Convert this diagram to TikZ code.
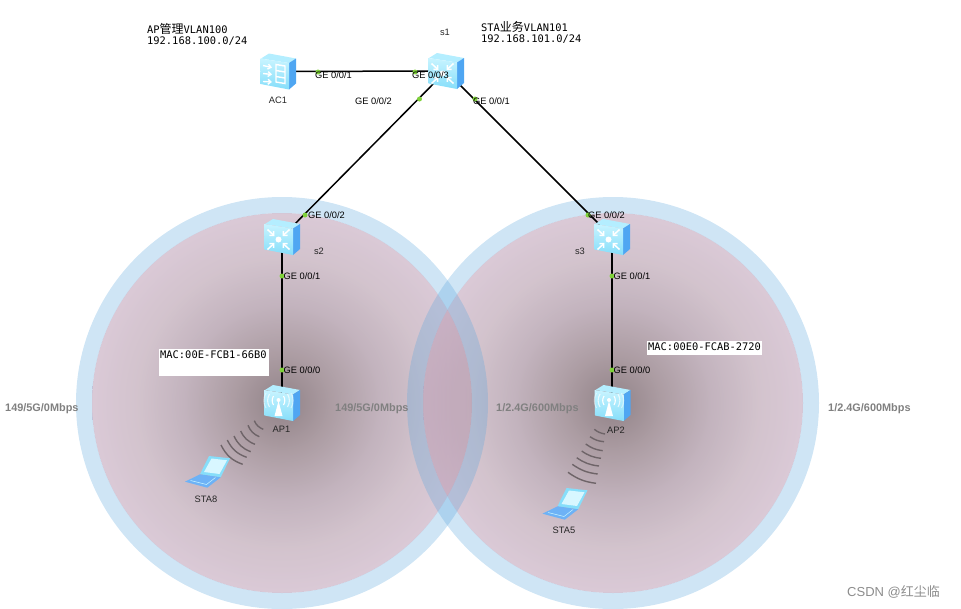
\documentclass[tikz,border=0pt]{standalone}
\usepackage{fontspec}
\usetikzlibrary{arrows.meta}
\setmainfont{Liberation Sans}
\newfontfamily\monof{DejaVu Sans Mono}
\newfontfamily\cjkf{Noto Sans CJK SC}
\pgfdeclareradialshading{halo}{\pgfpoint{0bp}{0bp}}{%
 rgb(0bp)=(0.215,0.11,0.145);
 rgb(6.5bp)=(0.41,0.30,0.345);
 rgb(13bp)=(0.57,0.46,0.535);
 rgb(19bp)=(0.68,0.57,0.64);
 rgb(25bp)=(0.737,0.615,0.71);
 rgb(50bp)=(0.737,0.615,0.71)}
\definecolor{bandblue}{HTML}{5FA8DD}
\definecolor{linkdot}{HTML}{7FD13B}
\definecolor{faceA}{HTML}{C8F4FF}
\definecolor{faceB}{HTML}{86DEFA}
\definecolor{sideblue}{HTML}{4FA6F2}
\definecolor{topblue}{HTML}{B4EEFF}
\definecolor{wave}{HTML}{6E6468}
\definecolor{lapbase}{HTML}{6DB2F6}
\tikzset{
 devnode/.style={inner sep=0pt,minimum size=30pt,shape=circle},
 link/.style={line width=1.5pt,black},
 portdot/.style={circle,fill=linkdot,inner sep=0pt,minimum size=5pt},
 port/.style={anchor=west,inner sep=0pt,font=\fontsize{9.3}{11}\selectfont,text=black},
 devname/.style={inner sep=0pt,font=\fontsize{9.3}{11}\selectfont,text=black!85},
 rate/.style={anchor=west,inner sep=0pt,font=\bfseries\fontsize{10.9}{13}\selectfont,text=black!50},
 monotext/.style={anchor=west,inner sep=0pt,font=\monof\fontsize{10.4}{13}\selectfont,text=black},
 macbox/.style={anchor=north west,fill=white,inner sep=0pt},
 wavearc/.style={line width=1.4pt,wave},
 boxbody/.pic={
  \fill[topblue] (-17,-13) -- (-9,-18) -- (18,-13) -- (11,-8.5) -- cycle;
  \fill[sideblue] (11,-8.5) -- (18,-13) -- (18,12) -- (11,18) -- cycle;
  \shade[top color=faceA,bottom color=faceB] (-18,-13) -- (11,-8.5) -- (11,18) -- (-17.5,12.5) -- cycle;
 },
 switchicon/.pic={
  \pic {boxbody};
  \begin{scope}[white,line width=1.5pt,shift={(-3.5,2.5)}]
   \fill (0,0) circle (3);
   \draw[-{Straight Barb[length=3pt,width=6pt]}] (-11,-10) -- (-4,-3.5);
   \draw[-{Straight Barb[length=3pt,width=6pt]}] (11,-10) -- (4,-3.5);
   \draw[-{Straight Barb[length=3pt,width=6pt]}] (-11,10) -- (-4,3.5);
   \draw[-{Straight Barb[length=3pt,width=6pt]}] (11,10) -- (4,3.5);
  \end{scope}
 },
 acicon/.pic={
  \pic {boxbody};
  \begin{scope}[white,line width=1.4pt]
   \draw[-{Straight Barb[length=3pt,width=5pt]}] (-15,-6) -- (-6,-4);
   \draw[-{Straight Barb[length=3pt,width=5pt]}] (-15,2) -- (-6,3);
   \draw[-{Straight Barb[length=3pt,width=5pt]}] (-15,10) -- (-6,10.5);
   \draw (-2,-7) -- (7,-5.5) -- (7,12) -- (-2,10.5) -- cycle;
   \draw (-2,-1) -- (7,0.5) (-2,5) -- (7,6.5);
  \end{scope}
 },
 apicon/.pic={
  \pic {boxbody};
  \begin{scope}[white,shift={(-3.5,2)}]
   \fill (0,-4) -- (-4,11) -- (4,11) -- cycle;
   \fill (0,-5) circle (2);
   \draw[line width=1.1pt] (-5,-9) to[bend right=30] (-5,0);
   \draw[line width=1.1pt] (5,-9) to[bend left=30] (5,0);
   \draw[line width=1.1pt,opacity=.7] (-9,-11) to[bend right=30] (-9,2);
   \draw[line width=1.1pt,opacity=.7] (9,-11) to[bend left=30] (9,2);
   \draw[line width=1.1pt,opacity=.45] (-12.5,-12) to[bend right=30] (-12.5,3);
   \draw[line width=1.1pt,opacity=.45] (12.5,-12) to[bend left=30] (12.5,3);
  \end{scope}
 },
 laptop/.pic={
  \fill[faceB] (1.5,-16) -- (22.5,-13.7) -- (13.2,5.3) -- (-7.5,2.3) -- cycle;
  \fill[faceA!70!white] (4,-13.5) -- (19.5,-11.7) -- (12,2) -- (-3.5,0) -- cycle;
  \fill[lapbase] (-7.5,2.3) -- (13.2,5.3) -- (-0.2,15.7) -- (-22.5,9.7) -- cycle;
  \draw[faceA,line width=.5pt] (-17,8.5) -- (-1,12.5) -- (8,5.5);
 },
}
\begin{document}
\begin{tikzpicture}[x=1pt,y=-1pt]
\useasboundingbox (0,0) rectangle (961,608);
% halos
\coordinate (cl) at (282,403);
\coordinate (cr) at (613,403);
\shade[shading=halo,opacity=.55] (cl) circle (190);
\shade[shading=halo,opacity=.55] (cr) circle (190);
\fill[bandblue,opacity=.3,even odd rule] (cl) circle (206) (cl) circle (190);
\fill[bandblue,opacity=.3,even odd rule] (cr) circle (206) (cr) circle (190);
% device anchors
\node[devnode] (ac1) at (278,71.5) {};
\node[devnode] (s1) at (446,71) {};
\node[devnode] (s2) at (282,237) {};
\node[devnode] (s3) at (612,237) {};
\node[devnode] (ap1) at (282,403) {};
\node[devnode] (ap2) at (612.5,403) {};
\node[devnode] (sta8) at (207.5,472) {};
\node[devnode] (sta5) at (565,504) {};
% links
\draw[link] (ac1.center) -- (s1.center);
\draw[link] (s1.center) -- (s2.center);
\draw[link] (s1.center) -- (s3.center);
\draw[link] (s2.center) -- (s2.center |- ap1.center);
\draw[link] (s3.center) -- (s3.center |- ap2.center);
% wireless AP1
\foreach \a/\b/\c/\d in {221/445/242.7/464.3, 227.3/440/246.7/457.3, 234/436/250.7/451.7, 240.7/431/255/444.3, 248/425.3/259.3/436.7, 254.3/420.7/263.3/429.3}
 \draw[wavearc] (\a,\b) to[bend right=22] (\c,\d);
% wireless AP2
\foreach \a/\b/\c/\d in {594.3/429.3/605/434, 590/436.7/604/441.7, 585.7/444/602.7/450.7, 581.7/451/601/458.3, 576.7/457.7/599/466, 572.3/464.3/597.7/474, 568/472.3/596/483.3}
 \draw[wavearc] (\a,\b) to[bend right=14] (\c,\d);
% icons
\pic at (ac1) {acicon};
\pic at (s1) {switchicon};
\pic at (s2) {switchicon};
\pic at (s3) {switchicon};
\pic at (ap1) {apicon};
\pic at (ap2) {apicon};
\pic at (sta8) {laptop};
\pic at (sta5) {laptop};
% port dots
\foreach \n/\x/\y in {d1/318/72,d2/415/72,d3/419.5/99,d4/475/99,d5/305/215,d6/282/276,d7/282/370,d8/588/215,d9/612/276,d10/612/370}
 \node[portdot] (\n) at (\x,\y) {};
% port labels
\node[port] (p1) at (315,75) {GE 0/0/1};
\node[port] (p2) at (412,75) {GE 0/0/3};
\node[port] (p3) at (355,101) {GE 0/0/2};
\node[port] (p4) at (473,101) {GE 0/0/1};
\node[port] (p5) at (308,215) {GE 0/0/2};
\node[port] (p6) at (283.5,276) {GE 0/0/1};
\node[port] (p7) at (283.5,370) {GE 0/0/0};
\node[port] (p8) at (588,215) {GE 0/0/2};
\node[port] (p9) at (613.5,276) {GE 0/0/1};
\node[port] (p10) at (613.5,370) {GE 0/0/0};
% device names
\node[devname] (nac1) at (278,100) {AC1};
\node[devname] (ns1) at (445,32.5) {s1};
\node[devname] (ns2) at (319,251.5) {s2};
\node[devname] (ns3) at (580,251.5) {s3};
\node[devname] (nap1) at (281.5,429) {AP1};
\node[devname] (nap2) at (616,430) {AP2};
\node[devname] (nsta8) at (206,499.5) {STA8};
\node[devname] (nsta5) at (564,530.5) {STA5};
% rates
\node[rate] (r1) at (5,409) {149/5G/0Mbps};
\node[rate] (r2) at (335,409) {149/5G/0Mbps};
\node[rate] (r3) at (496,409) {1/2.4G/600Mbps};
\node[rate] (r4) at (828,409) {1/2.4G/600Mbps};
% vlan notes
\node[monotext] (v1) at (147,29) {AP{\cjkf\fontsize{12}{13}\selectfont 管理}VLAN100};
\node[monotext] (v2) at (147,41.5) {192.168.100.0/24};
\node[monotext] (v3) at (481,27) {STA{\cjkf\fontsize{12}{13}\selectfont 业务}VLAN101};
\node[monotext] (v4) at (481,39.5) {192.168.101.0/24};
% MAC boxes
\node[macbox,minimum width=109.7pt,minimum height=26.7pt] (m1) at (159,349) {};
\node[monotext] (mt1) at (160,354.5) {MAC:00E-FCB1-66B0};
\node[macbox,minimum width=115.3pt,minimum height=13.3pt] (m2) at (646.7,341) {};
\node[monotext] (mt2) at (648,346.5) {MAC:00E0-FCAB-2720};
% watermark
\node[anchor=west,inner sep=0pt,text=black!45,font=\fontsize{13}{15}\selectfont] (wm) at (847,592) {CSDN @{\cjkf 红尘临}};
\end{tikzpicture}
\end{document}
